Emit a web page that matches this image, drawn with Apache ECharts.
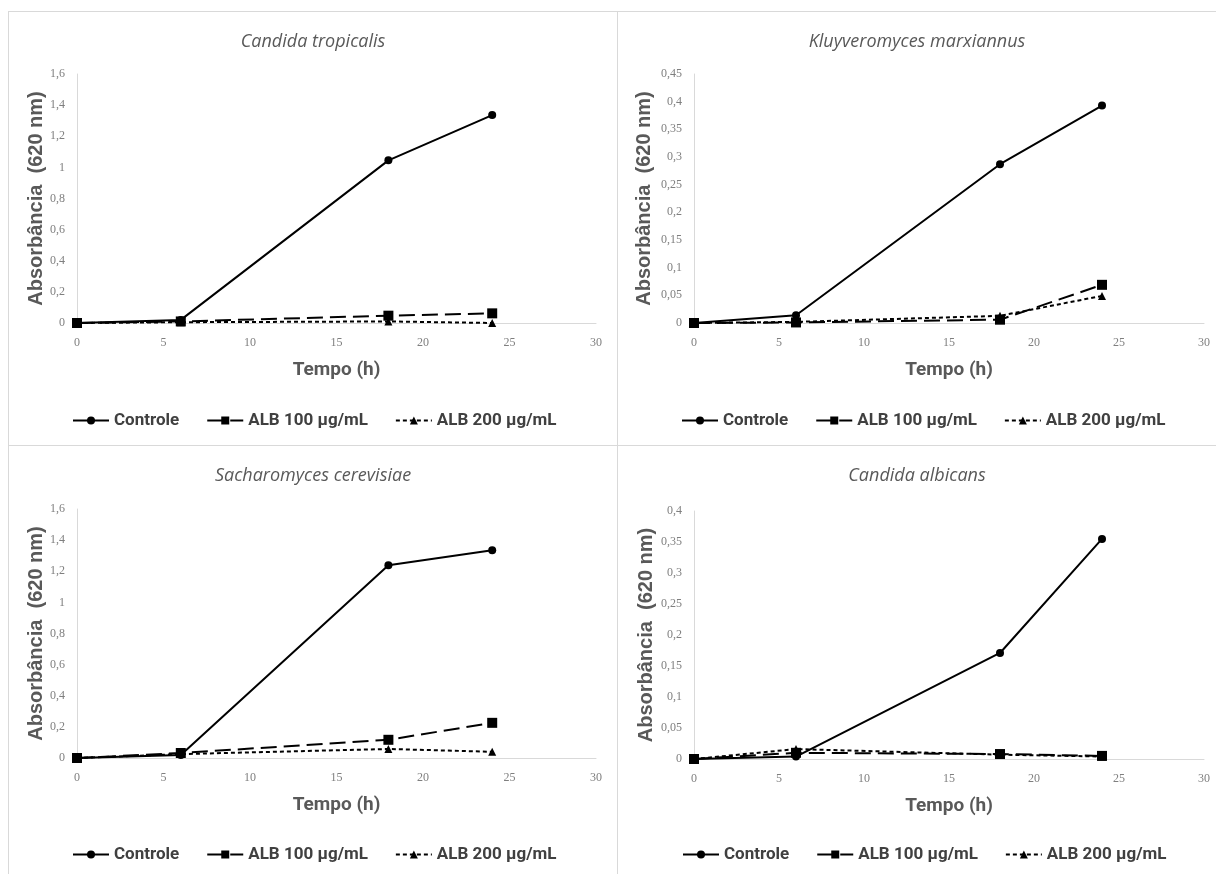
<!DOCTYPE html>
<html>
<head>
<meta charset="utf-8">
<script src="https://cdn.jsdelivr.net/npm/echarts@6/dist/echarts.min.js"></script>
<style>
    body { margin: 0; background: #fff; }
    #page { position: relative; width: 1216px; height: 874px; overflow: hidden; }
    .chart { position: absolute; }
    .rule { position: absolute; background: #d9d9d9; }
</style>
</head>
<body>
<div id="page">
    <div class="rule" style="left:8px;top:11px;width:1208px;height:1px"></div>
    <div class="rule" style="left:8px;top:445px;width:1208px;height:1px"></div>
    <div class="rule" style="left:8px;top:11px;width:1px;height:863px"></div>
    <div class="rule" style="left:617px;top:11px;width:1px;height:863px"></div>
    <div class="chart" id="tropicalis" style="left:9px;top:12px;width:608px;height:433px"></div>
    <div class="chart" id="marxiannus" style="left:618px;top:12px;width:598px;height:433px"></div>
    <div class="chart" id="cerevisiae" style="left:9px;top:446px;width:608px;height:428px"></div>
    <div class="chart" id="albicans" style="left:618px;top:446px;width:598px;height:428px"></div>
</div>
<script>
// tempo (h)
var hours = [0, 6, 18, 24];
var xTicks = [0, 5, 10, 15, 20, 25, 30];
var seriesNames = ['Controle', 'ALB 100 µg/mL', 'ALB 200 µg/mL'];

// Candida tropicalis
var tropicalisControle = [0, 0.02, 1.045, 1.336];
var tropicalisAlb100 = [0, 0.01, 0.047, 0.062];
var tropicalisAlb200 = [0, 0.005, 0.01, 0.0];

// Kluyveromyces marxiannus
var marxiannusControle = [0, 0.014, 0.287, 0.393];
var marxiannusAlb100 = [0, 0.001, 0.006, 0.069];
var marxiannusAlb200 = [0, 0.002, 0.013, 0.049];

// Sacharomyces cerevisiae
var cerevisiaeControle = [0, 0.02, 1.238, 1.335];
var cerevisiaeAlb100 = [0, 0.032, 0.117, 0.226];
var cerevisiaeAlb200 = [0, 0.025, 0.058, 0.04];

// Candida albicans
var albicansControle = [0, 0.004, 0.171, 0.355];
var albicansAlb100 = [0, 0.01, 0.008, 0.005];
var albicansAlb200 = [0, 0.016, 0.007, 0.004];

var narrow = "Roboto, 'Liberation Sans', sans-serif";

var panels = [
    { el: '#tropicalis', title: 'Candida tropicalis', max: 1.6, step: 0.2,
      values: [tropicalisControle, tropicalisAlb100, tropicalisAlb200], nameGap: 31,
      grid: { left: 68, right: 21, top: 62, bottom: 122 }, legendLeft: 58, legendTop: 395 },
    { el: '#marxiannus', title: 'Kluyveromyces marxiannus', max: 0.45, step: 0.05,
      values: [marxiannusControle, marxiannusAlb100, marxiannusAlb200], nameGap: 40,
      grid: { left: 76, right: 12, top: 62, bottom: 122 }, legendLeft: 58, legendTop: 395 },
    { el: '#cerevisiae', title: 'Sacharomyces cerevisiae', max: 1.6, step: 0.2,
      values: [cerevisiaeControle, cerevisiaeAlb100, cerevisiaeAlb200], nameGap: 31,
      grid: { left: 68, right: 21, top: 63, bottom: 116 }, legendLeft: 58, legendTop: 395 },
    { el: '#albicans', title: 'Candida albicans', max: 0.4, step: 0.05,
      values: [albicansControle, albicansAlb100, albicansAlb200], nameGap: 38,
      grid: { left: 76, right: 12, top: 65, bottom: 115 }, legendLeft: 59, legendTop: 395 }
];

var lineStyles = [
    { type: 'solid', symbol: 'circle', size: 8 },
    { type: [16, 7], symbol: 'rect', size: 10 },
    { type: [4, 3], symbol: 'triangle', size: 8 }
];

function pairs(values) {
    return hours.map(function (h, i) { return [h, values[i]]; });
}

function makeOption(p) {
    return {
        animation: false,
        title: {
            text: p.title,
            left: 'center',
            top: 16,
            textStyle: {
                fontFamily: "'Open Sans', sans-serif",
                fontStyle: 'italic',
                fontWeight: 'normal',
                fontSize: 18,
                color: '#595959'
            }
        },
        legend: {
            left: p.legendLeft,
            top: p.legendTop,
            width: 560,
            itemWidth: 36,
            itemHeight: 10,
            itemGap: 27,
            data: seriesNames,
            textStyle: {
                fontFamily: narrow,
                fontWeight: 'bold',
                fontSize: 17,
                color: '#404040'
            }
        },
        grid: p.grid,
        xAxis: {
            type: 'value',
            min: xTicks[0],
            max: xTicks[xTicks.length - 1],
            interval: 5,
            name: 'Tempo (h)',
            nameLocation: 'middle',
            nameGap: 38,
            nameMoveOverlap: false,
            nameTextStyle: {
                fontFamily: narrow,
                fontWeight: 'bold',
                fontSize: 19,
                color: '#595959'
            },
            axisLine: { show: true, lineStyle: { color: '#d9d9d9', width: 1 } },
            axisTick: { show: false },
            splitLine: { show: false },
            axisLabel: {
                margin: 14,
                fontFamily: "'Liberation Serif', serif",
                fontSize: 12,
                color: '#7f7f7f'
            }
        },
        yAxis: {
            type: 'value',
            min: 0,
            max: p.max,
            interval: p.step,
            name: 'Absorbância  (620 nm)',
            nameLocation: 'middle',
            nameGap: p.nameGap,
            nameMoveOverlap: false,
            nameTextStyle: {
                fontFamily: "'Liberation Sans', Arial, sans-serif",
                fontWeight: 'bold',
                fontSize: 20,
                color: '#595959'
            },
            axisLine: { show: true, lineStyle: { color: '#d9d9d9', width: 1 } },
            axisTick: { show: false },
            splitLine: { show: false },
            axisLabel: {
                margin: 12,
                fontFamily: "'Liberation Serif', serif",
                fontSize: 12,
                color: '#7f7f7f',
                formatter: function (v) {
                    return String(+v.toFixed(2)).replace('.', ',');
                }
            }
        },
        series: seriesNames.map(function (name, i) {
            return {
                name: name,
                type: 'line',
                data: pairs(p.values[i]),
                symbol: lineStyles[i].symbol,
                symbolSize: lineStyles[i].size,
                itemStyle: { color: '#000' },
                lineStyle: { color: '#000', width: 2, type: lineStyles[i].type },
                z: 3 - i
            };
        })
    };
}

panels.forEach(function (p) {
    var chart = echarts.init(document.querySelector(p.el), null);
    chart.setOption(makeOption(p));
    window.addEventListener('resize', function () {
        chart.resize();
    });
});
</script>
</body>
</html>
